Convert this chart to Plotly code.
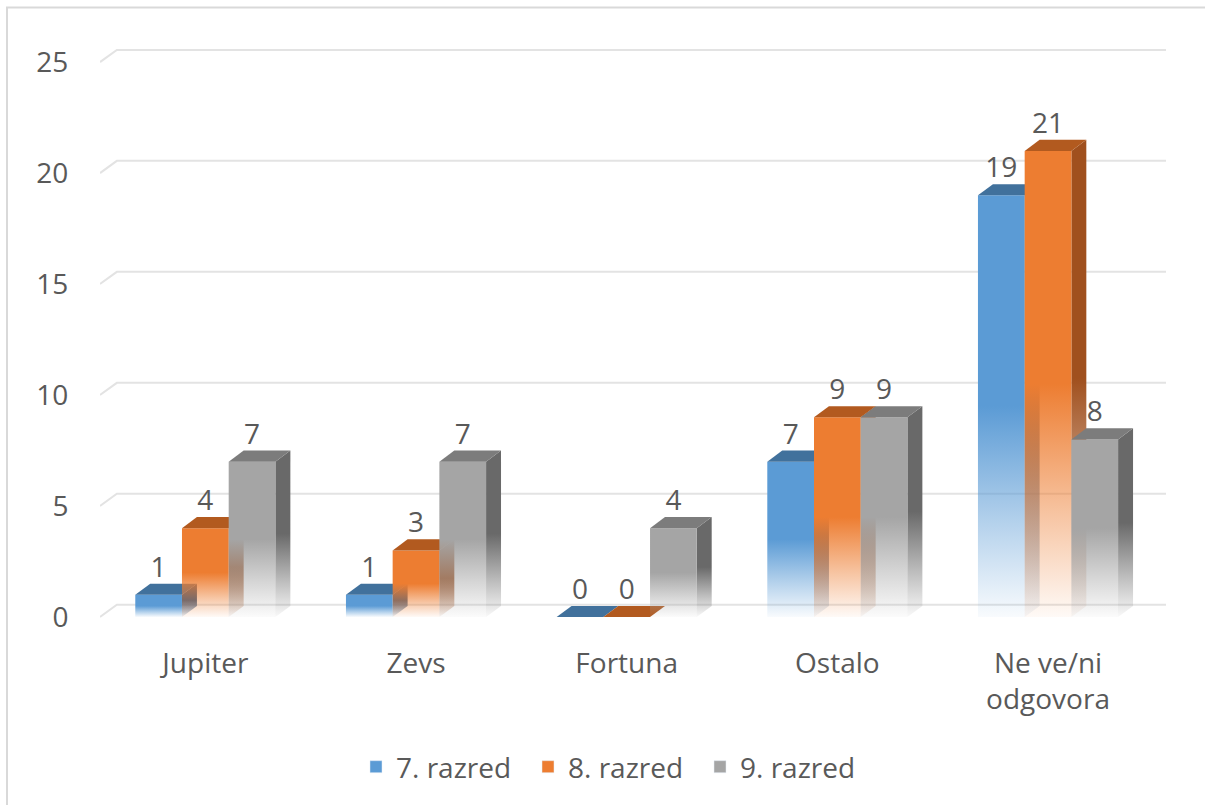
import plotly.graph_objects as go

# ---- data ----
categories = ["Jupiter", "Zevs", "Fortuna", "Ostalo", "Ne ve/ni<br>odgovora"]
series_names = ["7. razred", "8. razred", "9. razred"]
razred7 = [1, 1, 0, 7, 19]
razred8 = [4, 3, 0, 9, 21]
razred9 = [7, 7, 4, 9, 8]
y_ticks = [0, 5, 10, 15, 20, 25]

series_values = [razred7, razred8, razred9]

# ---- styles ----
front_rgb = [(91, 155, 213), (237, 125, 49), (165, 165, 165)]
top_col = ["#41719C", "#B25A1F", "#7C7C7C"]
side_rgb = [(50, 95, 140), (160, 80, 30), (105, 105, 105)]
text_col = "#595959"
FONT = "Open Sans"
FS = 28

BW = 0.2217     # bar width (x units)
DX, DY = 0.071, 0.5      # bar depth
GDX, GDY = 0.08, 0.55    # back-wall offset for gridlines
XMIN, XMAX = -0.5, 4.56

W, H = 1205, 805
ML, MR, MT, MB = 100, 39, 47, 185
PW, PH = W - ML - MR, H - MT - MB


def rgba(c, a):
    return f"rgba({c[0]},{c[1]},{c[2]},{a})"


def fade_scale(c):
    return [[0, rgba(c, 0.04)], [0.22, rgba(c, 0.45)], [0.5, rgba(c, 1)], [1, rgba(c, 1)]]


def px_to_paper_x(px):
    return (px - ML) / PW


def px_to_paper_y(py):
    return (H - MB - py) / PH


fig = go.Figure()

# gridlines on back wall
for t in y_ticks:
    fig.add_trace(go.Scatter(
        x=[XMIN, XMIN + GDX, XMAX], y=[t, t + GDY, t + GDY],
        mode="lines", line=dict(color="#E3E3E3", width=2),
        hoverinfo="skip", showlegend=False))

# 3D bars
for i in range(len(categories)):
    for s, vals in enumerate(series_values):
        v = vals[i]
        xl = i + (s - 1.5) * BW
        xr = xl + BW
        if v > 0:
            # side face
            fig.add_trace(go.Scatter(
                x=[xr, xr + DX, xr + DX, xr, xr], y=[0, DY, v + DY, v, 0],
                fill="toself", mode="lines", line=dict(width=0),
                fillgradient=dict(type="vertical", colorscale=fade_scale(side_rgb[s])),
                hoverinfo="skip", showlegend=False))
            # front face
            fig.add_trace(go.Scatter(
                x=[xl, xr, xr, xl, xl], y=[0, 0, v, v, 0],
                fill="toself", mode="lines", line=dict(width=0),
                fillgradient=dict(type="vertical", colorscale=fade_scale(front_rgb[s])),
                hoverinfo="skip", showlegend=False))
        # top face
        fig.add_trace(go.Scatter(
            x=[xl, xl + DX, xr + DX, xr, xl], y=[v, v + DY, v + DY, v, v],
            fill="toself", mode="lines", line=dict(width=0),
            fillcolor=top_col[s], hoverinfo="skip", showlegend=False))

# data labels
for s, vals in enumerate(series_values):
    xs = [i + (s - 1) * BW for i in range(len(categories))]
    ys = [v + DY for v in vals]
    fig.add_trace(go.Scatter(
        x=xs, y=ys, mode="text", text=[str(v) for v in vals],
        textposition="top center",
        textfont=dict(family=FONT, size=FS, color=text_col),
        hoverinfo="skip", showlegend=False))

# legend entries
for s, name in enumerate(series_names):
    fig.add_trace(go.Bar(x=[None], y=[None], name=name,
                         marker=dict(color=rgba(front_rgb[s], 1))))

fig.update_layout(
    width=W, height=H,
    margin=dict(l=ML, r=MR, t=MT, b=MB),
    paper_bgcolor="white", plot_bgcolor="white",
    font=dict(family=FONT, size=FS, color=text_col),
    xaxis=dict(range=[XMIN, XMAX], tickvals=list(range(len(categories))),
               ticktext=categories, showgrid=False, zeroline=False,
               showline=False, ticks="outside", ticklen=18,
               tickcolor="rgba(0,0,0,0)", fixedrange=True),
    yaxis=dict(range=[-0.135, 25.68], tickvals=y_ticks, showgrid=False,
               zeroline=False, showline=False, ticks="outside", ticklen=25,
               tickcolor="rgba(0,0,0,0)", fixedrange=True),
    legend=dict(orientation="h", x=px_to_paper_x(614), xanchor="center",
                y=px_to_paper_y(767), yanchor="middle",
                font=dict(family=FONT, size=FS, color=text_col),
                entrywidth=127, entrywidthmode="pixels"),
    shapes=[dict(type="rect", xref="paper", yref="paper",
                 x0=px_to_paper_x(7), x1=px_to_paper_x(W + 20),
                 y0=px_to_paper_y(H + 20), y1=px_to_paper_y(7.5),
                 line=dict(color="#D9D9D9", width=2), fillcolor="rgba(0,0,0,0)",
                 layer="below")],
)

fig.write_html("out.html", config={"displayModeBar": False},
               post_script="document.body.style.margin='0px';")
